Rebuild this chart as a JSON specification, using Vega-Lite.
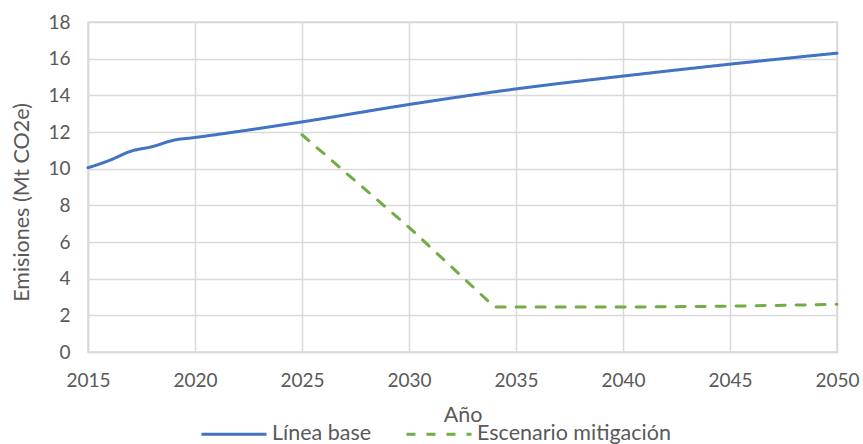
{
  "$schema": "https://vega.github.io/schema/vega-lite/v6.json",
  "width": 749,
  "height": 330,
  "autosize": {"type": "none"},
  "padding": {"left": 88, "top": 22, "right": 26, "bottom": 92},
  "background": "white",
  "data": {
    "values": [
      {"anio": 2015, "emisiones": 10.05, "serie": "Línea base"},
      {"anio": 2016, "emisiones": 10.45, "serie": "Línea base"},
      {"anio": 2017, "emisiones": 10.95, "serie": "Línea base"},
      {"anio": 2018, "emisiones": 11.2, "serie": "Línea base"},
      {"anio": 2019, "emisiones": 11.55, "serie": "Línea base"},
      {"anio": 2020, "emisiones": 11.7, "serie": "Línea base"},
      {"anio": 2025, "emisiones": 12.55, "serie": "Línea base"},
      {"anio": 2030, "emisiones": 13.5, "serie": "Línea base"},
      {"anio": 2035, "emisiones": 14.35, "serie": "Línea base"},
      {"anio": 2040, "emisiones": 15.05, "serie": "Línea base"},
      {"anio": 2045, "emisiones": 15.7, "serie": "Línea base"},
      {"anio": 2050, "emisiones": 16.3, "serie": "Línea base"},
      {"anio": 2025, "emisiones": 11.85, "serie": "Escenario mitigación"},
      {"anio": 2030, "emisiones": 6.8, "serie": "Escenario mitigación"},
      {"anio": 2034, "emisiones": 2.45, "serie": "Escenario mitigación"},
      {"anio": 2035, "emisiones": 2.45, "serie": "Escenario mitigación"},
      {"anio": 2040, "emisiones": 2.45, "serie": "Escenario mitigación"},
      {"anio": 2045, "emisiones": 2.5, "serie": "Escenario mitigación"},
      {"anio": 2050, "emisiones": 2.6, "serie": "Escenario mitigación"}
    ]
  },
  "encoding": {
    "x": {
      "field": "anio",
      "type": "quantitative",
      "scale": {"domain": [2015, 2050], "nice": false, "zero": false},
      "axis": {
        "title": "Año",
        "values": [2015, 2020, 2025, 2030, 2035, 2040, 2045, 2050],
        "format": "d",
        "ticks": false,
        "labelFlush": false,
        "labelBound": false,
        "labelPadding": 19,
        "titlePadding": 14,
        "grid": true
      }
    },
    "y": {
      "field": "emisiones",
      "type": "quantitative",
      "scale": {"domain": [0, 18], "nice": false},
      "axis": {
        "title": "Emisiones (Mt CO2e)",
        "values": [0, 2, 4, 6, 8, 10, 12, 14, 16, 18],
        "ticks": false,
        "labelPadding": 18,
        "titleX": -55,
        "titleY": 180,
        "grid": true
      }
    },
    "color": {
      "field": "serie",
      "type": "nominal",
      "scale": {"domain": ["Línea base", "Escenario mitigación"], "range": ["#4472C4", "#70AD47"]},
      "legend": {"title": null}
    },
    "strokeDash": {
      "field": "serie",
      "type": "nominal",
      "scale": {"domain": ["Línea base", "Escenario mitigación"], "range": [[1, 0], [9, 11]]},
      "legend": {"title": null}
    }
  },
  "layer": [
    {
      "transform": [{"filter": "datum.serie === 'Línea base'"}],
      "mark": {"type": "line", "strokeWidth": 3, "strokeCap": "round", "interpolate": "monotone"}
    },
    {
      "transform": [{"filter": "datum.serie === 'Escenario mitigación'"}],
      "mark": {"type": "line", "strokeWidth": 3, "strokeCap": "round", "strokeJoin": "round"}
    }
  ],
  "config": {
    "font": "Lato",
    "view": {"stroke": "#d9d9d9", "strokeWidth": 1.5},
    "axis": {
      "labelFont": "Lato",
      "labelFontSize": 19,
      "labelColor": "#595959",
      "titleFont": "Lato",
      "titleFontSize": 21.5,
      "titleFontWeight": "normal",
      "titleColor": "#595959",
      "gridColor": "#d9d9d9",
      "gridWidth": 1.5,
      "domainColor": "#d9d9d9",
      "domainWidth": 1.5
    },
    "legend": {
      "orient": "none",
      "direction": "horizontal",
      "legendX": 112,
      "legendY": 378,
      "symbolType": "stroke",
      "symbolSize": 4225,
      "symbolStrokeWidth": 3,
      "labelFont": "Lato",
      "labelFontSize": 21.5,
      "labelLimit": 400,
      "labelColor": "#595959",
      "labelOffset": 4,
      "columnPadding": 28
    }
  }
}
